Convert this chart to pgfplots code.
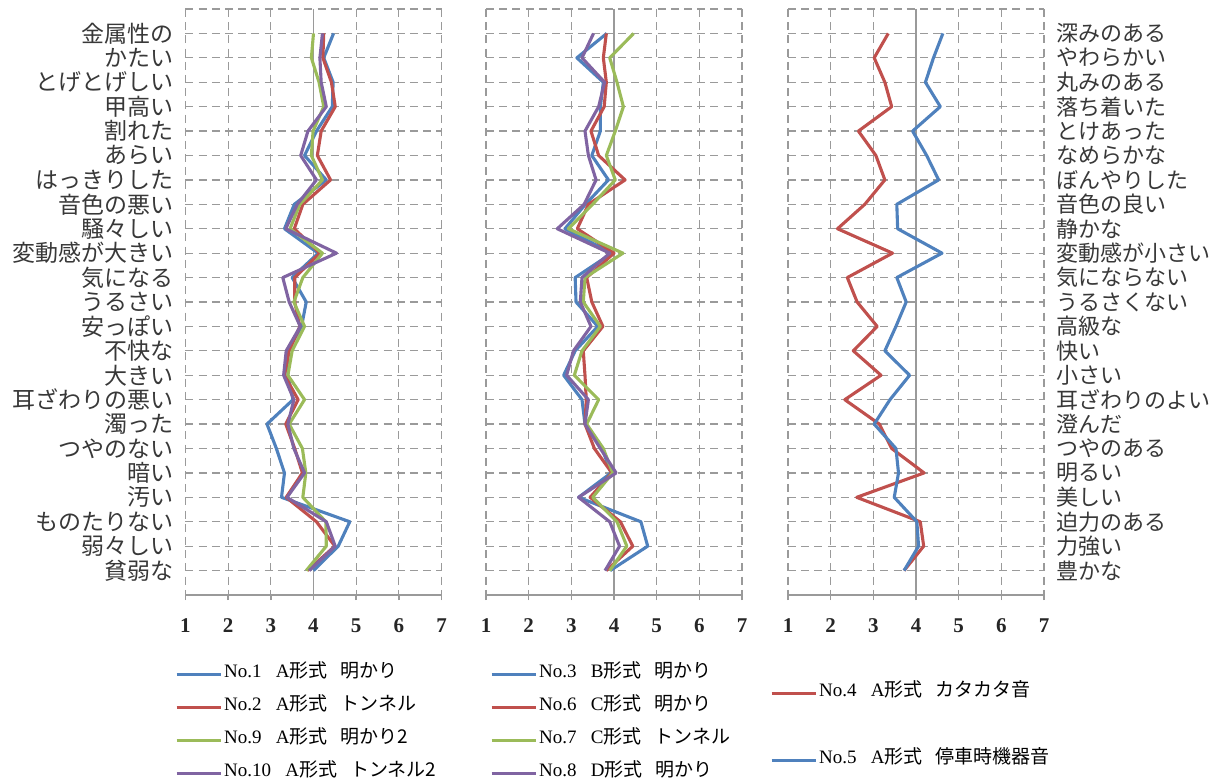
\documentclass[border=0pt]{standalone}
\usepackage{fontspec}
\setmainfont{Liberation Serif}
\newfontfamily\cjk{Noto Sans CJK JP}
\usepackage{pgfplots}
\usepackage{pgfplotstable}
\pgfplotsset{compat=1.18}
\definecolor{cblue}{HTML}{4F81BD}
\definecolor{cred}{HTML}{C0504D}
\definecolor{cgreen}{HTML}{9BBB59}
\definecolor{cpurple}{HTML}{8064A2}
\definecolor{gridgray}{HTML}{9A9A9A}

% panel 1: No.1 (blue), No.2 (red), No.9 (green), No.10 (purple)
\pgfplotstableread{
row a b c d
0 4.47 4.24 4.00 4.21
1 4.24 4.22 3.95 4.15
2 4.46 4.42 4.13 4.18
3 4.44 4.51 4.24 4.30
4 4.07 4.18 3.99 3.87
5 3.79 4.09 3.95 3.70
6 4.30 4.40 4.21 4.07
7 3.55 3.75 3.68 3.62
8 3.32 3.55 3.45 3.35
9 4.11 4.15 4.21 4.54
10 3.50 3.56 3.75 3.28
11 3.83 3.56 3.54 3.43
12 3.72 3.68 3.79 3.69
13 3.40 3.43 3.50 3.36
14 3.40 3.32 3.40 3.30
15 3.52 3.64 3.79 3.54
16 2.91 3.35 3.43 3.40
17 3.13 3.56 3.74 3.54
18 3.32 3.74 3.82 3.79
19 3.25 3.36 3.75 3.38
20 4.85 4.07 4.29 4.30
21 4.58 4.50 4.30 4.51
22 4.00 3.86 3.83 3.90
}\tabA
% panel 2: No.3 (blue), No.6 (red), No.7 (green), No.8 (purple)
\pgfplotstableread{
row a b c d
0 3.83 3.82 4.46 3.52
1 3.13 3.75 3.90 3.25
2 3.75 3.82 4.07 3.78
3 3.68 3.77 4.22 3.64
4 3.68 3.46 4.03 3.32
5 3.48 3.64 3.82 3.40
6 3.87 4.26 4.03 3.58
7 3.33 3.40 3.50 3.30
8 2.85 3.14 2.93 2.67
9 3.95 4.00 4.21 3.90
10 3.09 3.36 3.32 3.25
11 3.11 3.48 3.28 3.21
12 3.62 3.74 3.68 3.46
13 3.09 3.28 3.25 3.05
14 2.82 3.32 3.07 2.89
15 3.25 3.35 3.64 3.40
16 3.32 3.32 3.36 3.32
17 3.72 3.54 3.75 3.68
18 3.93 3.95 3.97 4.05
19 3.17 3.44 3.50 3.17
20 4.63 4.15 4.07 3.90
21 4.79 4.44 4.30 4.13
22 3.91 3.82 3.90 3.79
}\tabB
% panel 3: No.4 (red), No.5 (blue)
\pgfplotstableread{
row r b
0 3.35 4.63
1 3.02 4.41
2 3.27 4.22
3 3.43 4.57
4 2.65 3.92
5 3.06 4.25
6 3.27 4.53
7 2.80 3.55
8 2.16 3.57
9 3.45 4.61
10 2.39 3.55
11 2.62 3.77
12 3.09 3.53
13 2.53 3.27
14 3.18 3.85
15 2.33 3.39
16 3.14 3.02
17 3.43 3.53
18 4.19 3.59
19 2.61 3.49
20 4.10 4.02
21 4.18 4.06
22 3.72 3.72
}\tabC

\newcommand\lgd[3]{No.#1\hspace{0.75em}#2{\cjk 形式}\hspace{0.7em}{\cjk #3}}

\pgfplotsset{
  panel/.style={
    scale only axis, width=128pt, height=293pt,
    xmin=1, xmax=7, ymin=-1, ymax=23, y dir=reverse,
    xtick={1,...,7}, ytick={-1,...,23},
    grid=major,
    major grid style={draw=gridgray, line width=0.65pt, dash pattern=on 4pt off 2.6pt},
    axis x line*=bottom, axis y line*=left,
    axis line style={-, draw=gridgray, line width=0.7pt},
    y axis line style={draw=none},
    ytick style={draw=none},
    xtick style={draw=gridgray, line width=0.7pt},
    tick align=outside, major tick length=2.5pt,
    extra x ticks={4}, extra x tick labels={},
    extra x tick style={grid=major, major grid style={solid, draw=gridgray, line width=0.7pt}},
    /pgf/number format/assume math mode=true,
    xticklabel style={font=\fontsize{10.5}{12}\selectfont\bfseries, text=black!85, yshift=-6pt},
    yticklabel style={font=\cjk\fontsize{11.5}{13}\selectfont, text=black!78},
    every axis plot/.append style={mark=none, line width=1.55pt, line join=round},
    legend image code/.code={\draw[##1, mark=none] (0pt,-1pt) -- (22pt,-1pt);},
    legend cell align=left,
    legend style={draw=none, fill=none, inner sep=0pt, outer sep=0pt,
      anchor=north west, column sep=1pt, row sep=6.9pt,
      font=\fontsize{9.5}{11}\selectfont, text=black,
      nodes={inner sep=0pt, text height=7.2pt, text depth=2.4pt}},
  }
}

\begin{document}
\begin{tikzpicture}[x=1pt,y=1pt]
\useasboundingbox (0,0) rectangle (610.5,390);
% panel 1
\begin{axis}[panel, at={(92.75pt,92.5pt)}, anchor=south west,
  yticklabels={,金属性の,かたい,とげとげしい,甲高い,割れた,あらい,はっきりした,音色の悪い,騒々しい,変動感が大きい,気になる,うるさい,安っぽい,不快な,大きい,耳ざわりの悪い,濁った,つやのない,暗い,汚い,ものたりない,弱々しい,貧弱な,},
  legend style={at={(axis description cs:-0.041,-0.1157)}}]
\addplot[cblue] table[x=a,y=row]{\tabA};
\addlegendentry{\lgd{1}{A}{明かり}}
\addplot[cred] table[x=b,y=row]{\tabA};
\addlegendentry{\lgd{2}{A}{トンネル}}
\addplot[cgreen] table[x=c,y=row]{\tabA};
\addlegendentry{\lgd{9}{A}{明かり2}}
\addplot[cpurple] table[x=d,y=row]{\tabA};
\addlegendentry{\lgd{10}{A}{トンネル2}}
\end{axis}
% panel 2
\begin{axis}[panel, at={(243pt,92.5pt)}, anchor=south west,
  yticklabels={},
  legend style={at={(axis description cs:0.016,-0.1157)}}]
\addplot[cblue] table[x=a,y=row]{\tabB};
\addlegendentry{\lgd{3}{B}{明かり}}
\addplot[cred] table[x=b,y=row]{\tabB};
\addlegendentry{\lgd{6}{C}{明かり}}
\addplot[cgreen] table[x=c,y=row]{\tabB};
\addlegendentry{\lgd{7}{C}{トンネル}}
\addplot[cpurple] table[x=d,y=row]{\tabB};
\addlegendentry{\lgd{8}{D}{明かり}}
\end{axis}
% panel 3
\begin{axis}[panel, at={(394pt,92.5pt)}, anchor=south west,
  axis y line*=right,
  yticklabel style={font=\cjk\fontsize{11}{13}\selectfont, xshift=0pt},
  yticklabels={,深みのある,やわらかい,丸みのある,落ち着いた,とけあった,なめらかな,ぼんやりした,音色の良い,静かな,変動感が小さい,気にならない,うるさくない,高級な,快い,小さい,耳ざわりのよい,澄んだ,つやのある,明るい,美しい,迫力のある,力強い,豊かな,},
  legend style={at={(axis description cs:-0.070,-0.1481)}, row sep=23.9pt}]
\addplot[cred] table[x=r,y=row]{\tabC};
\addlegendentry{\lgd{4}{A}{カタカタ音}}
\addplot[cblue] table[x=b,y=row]{\tabC};
\addlegendentry{\lgd{5}{A}{停車時機器音}}
\end{axis}
\end{tikzpicture}
\end{document}
